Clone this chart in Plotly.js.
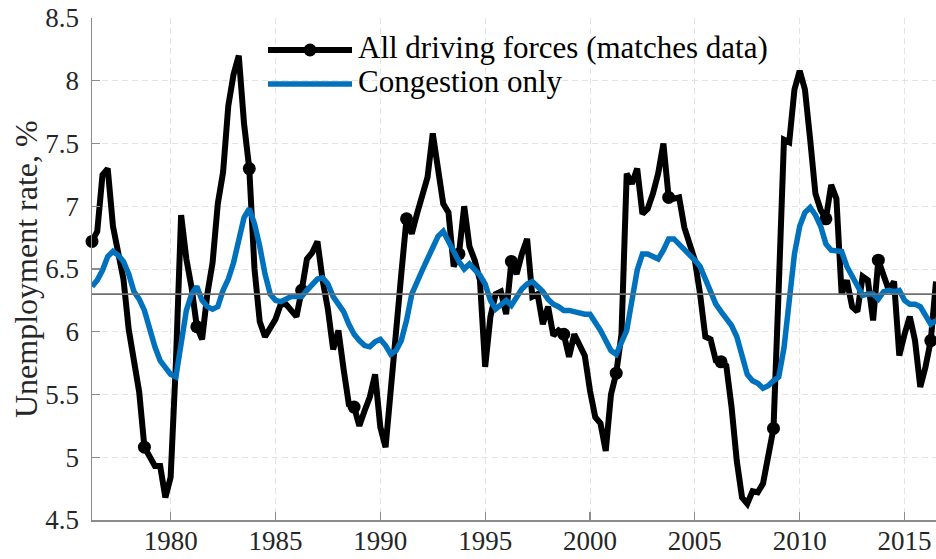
<!DOCTYPE html>
<html>
<head>
<meta charset="utf-8">
<script src="https://cdn.plot.ly/plotly-3.0.1.min.js"></script>
<style>
  html, body { margin: 0; padding: 0; background: #fff; }
  #chart { width: 936px; height: 559px; }
</style>
</head>
<body>
<div id="chart"></div>
<script>
// Quarterly series, first quarter shown is 1976.25, one value per quarter
const startYear = 1976.25;

// All driving forces (matches data), one row per year
const allForces = [
  6.72, 6.80, 7.25,                 // 1976 Q2-Q4
  7.30, 6.84, 6.62, 6.42,           // 1977
  6.02, 5.80, 5.52, 5.08,           // 1978
  5.00, 4.93, 4.93, 4.68,           // 1979
  4.84, 5.75, 6.93, 6.58,           // 1980
  6.35, 6.04, 5.94, 6.30,           // 1981
  6.55, 7.02, 7.27, 7.80,           // 1982
  8.05, 8.20, 7.66, 7.30,           // 1983
  6.50, 6.08, 5.96, 6.04,           // 1984
  6.10, 6.22, 6.22, 6.17,           // 1985
  6.12, 6.33, 6.58, 6.63,           // 1986
  6.72, 6.41, 6.18, 5.86,           // 1987
  6.01, 5.70, 5.42, 5.40,           // 1988
  5.25, 5.37, 5.48, 5.66,           // 1989
  5.24, 5.08, 5.50, 5.93,           // 1990
  6.46, 6.90, 6.78, 6.94,           // 1991
  7.10, 7.23, 7.58, 7.26,           // 1992
  7.02, 6.95, 6.52, 6.62,           // 1993
  7.00, 6.68, 6.57, 6.41,           // 1994
  5.72, 6.12, 6.30, 6.32,           // 1995
  6.14, 6.56, 6.46, 6.62,           // 1996
  6.74, 6.28, 6.30, 6.06,           // 1997
  6.20, 5.97, 6.01, 5.98,           // 1998
  5.80, 5.98, 5.88, 5.81,           // 1999
  5.53, 5.32, 5.27, 5.05,           // 2000
  5.50, 5.67, 5.98, 7.26,           // 2001
  7.18, 7.30, 6.94, 6.98,           // 2002
  7.10, 7.26, 7.50, 7.07,           // 2003
  7.06, 7.07, 6.83, 6.68,           // 2004
  6.57, 6.30, 5.96, 5.94,           // 2005
  5.77, 5.76, 5.73, 5.40,           // 2006
  4.97, 4.68, 4.63, 4.73,           // 2007
  4.72, 4.79, 5.03, 5.23,           // 2008
  6.35, 7.53, 7.51, 7.93,           // 2009
  8.08, 7.93, 7.53, 7.10,           // 2010
  6.97, 6.90, 7.17, 7.06,           // 2011
  6.30, 6.41, 6.20, 6.16,           // 2012
  6.44, 6.41, 6.09, 6.57,           // 2013
  6.45, 6.33, 6.40, 5.81,           // 2014
  5.98, 6.12, 5.93, 5.56,           // 2015
  5.72, 5.93, 6.40                  // 2016 Q1-Q3
];

// Congestion only
const congestionOnly = [
  6.36, 6.41, 6.49,
  6.60, 6.64, 6.61, 6.56,
  6.46, 6.32, 6.26, 6.17,
  6.01, 5.88, 5.77, 5.72,
  5.66, 5.64, 5.88, 6.17,
  6.30, 6.36, 6.25, 6.20,
  6.18, 6.20, 6.33, 6.42,
  6.55, 6.73, 6.91, 6.98,
  6.86, 6.68, 6.46, 6.30,
  6.25, 6.24, 6.26, 6.28,
  6.28, 6.28, 6.33, 6.38,
  6.42, 6.43, 6.38, 6.28,
  6.22, 6.16, 6.06, 5.98,
  5.93, 5.89, 5.88, 5.92,
  5.94, 5.89, 5.82, 5.85,
  5.93, 6.09, 6.30, 6.41,
  6.49, 6.58, 6.68, 6.76,
  6.80, 6.73, 6.64, 6.56,
  6.50, 6.54, 6.50, 6.45,
  6.38, 6.25, 6.18, 6.22,
  6.25, 6.21, 6.28, 6.34,
  6.38, 6.40, 6.36, 6.32,
  6.26, 6.22, 6.20, 6.17,
  6.17, 6.16, 6.14, 6.14,
  6.14, 6.08, 6.01, 5.93,
  5.85, 5.82, 5.92, 6.01,
  6.25, 6.49, 6.62, 6.62,
  6.60, 6.58, 6.65, 6.74,
  6.74, 6.70, 6.66, 6.62,
  6.57, 6.52, 6.41, 6.30,
  6.22, 6.16, 6.10, 6.05,
  5.96, 5.80, 5.66, 5.61,
  5.59, 5.55, 5.57, 5.61,
  5.64, 5.87, 6.22, 6.62,
  6.84, 6.95, 6.99, 6.93,
  6.84, 6.70, 6.65, 6.64,
  6.64, 6.52, 6.44, 6.36,
  6.29, 6.30, 6.30, 6.26,
  6.32, 6.33, 6.32, 6.33,
  6.25, 6.22, 6.22, 6.20,
  6.12, 6.06, 6.09
];

const seriesNames = ['All driving forces (matches data)', 'Congestion only'];
const referenceLevel = 6.3;
const xTicks = [1980, 1985, 1990, 1995, 2000, 2005, 2010, 2015];
const yTicks = [4.5, 5, 5.5, 6, 6.5, 7, 7.5, 8, 8.5];

const quarters = allForces.map((_, i) => startYear + i * 0.25);

const font = '"Liberation Serif", "DejaVu Serif", serif';
const black = '#000000';
const blue = '#0072BD';
const axisGray = '#8c8c8c';

// marker on every 10th quarter, like MarkerIndices in the original
const markerSizes = quarters.map((_, i) => (i % 10 === 0 ? 13 : 0));

const traces = [
  {
    x: quarters,
    y: allForces,
    name: seriesNames[0],
    type: 'scatter',
    mode: 'lines+markers',
    cliponaxis: false,
    line: { color: black, width: 6 },
    marker: { color: black, size: markerSizes, opacity: 1, line: { width: 0 } },
    showlegend: false
  },
  {
    x: quarters,
    y: congestionOnly,
    name: seriesNames[1],
    type: 'scatter',
    mode: 'lines',
    line: { color: blue, width: 5.5 },
    showlegend: false
  }
];

// legend drawn by hand so the sample lines are as long as in the original
const legendX0 = (268 - 92) / 844;
const legendX1 = (352 - 92) / 844;
const legendTextX = (356 - 92) / 844;
const row1 = (520 - 50) / 502;
const row2 = (520 - 84) / 502;

const axisStyle = {
  ticks: 'inside',
  ticklen: 8,
  tickwidth: 1.2,
  tickcolor: axisGray,
  showline: true,
  linecolor: axisGray,
  linewidth: 1.5,
  showgrid: true,
  gridcolor: '#e3e3e3',
  gridwidth: 1,
  griddash: '6px,4px',
  zeroline: false,
  tickfont: { family: font, size: 27, color: '#262626' }
};

const layout = {
  width: 936,
  height: 559,
  margin: { l: 92, r: 0, t: 18, b: 39 },
  paper_bgcolor: '#ffffff',
  plot_bgcolor: '#ffffff',
  font: { family: font, color: '#262626', size: 27 },
  xaxis: Object.assign({}, axisStyle, {
    range: [startYear, quarters[quarters.length - 1]],
    tickvals: xTicks,
    ticklabelstandoff: -4
  }),
  yaxis: Object.assign({}, axisStyle, {
    range: [4.5, 8.5],
    tickvals: yTicks,
    ticktext: yTicks.map(v => String(v)),
    ticklabelstandoff: 6
  }),
  shapes: [
    {
      type: 'line', xref: 'paper', yref: 'y', x0: 0, x1: 1,
      y0: referenceLevel, y1: referenceLevel,
      line: { color: '#707070', width: 1.8 }, layer: 'above'
    },
    {
      type: 'line', xref: 'paper', yref: 'paper', x0: legendX0, x1: legendX1,
      y0: row1, y1: row1, line: { color: black, width: 6 }
    },
    {
      type: 'circle', xref: 'paper', yref: 'paper',
      xsizemode: 'pixel', ysizemode: 'pixel',
      xanchor: (legendX0 + legendX1) / 2, yanchor: row1,
      x0: -6.5, x1: 6.5, y0: -6.5, y1: 6.5,
      fillcolor: black, line: { color: black, width: 0 }
    },
    {
      type: 'line', xref: 'paper', yref: 'paper', x0: legendX0, x1: legendX1,
      y0: row2, y1: row2, line: { color: blue, width: 5.5 }
    }
  ],
  annotations: [
    {
      xref: 'paper', yref: 'paper', x: legendTextX, y: row1 + 0.004,
      xanchor: 'left', yanchor: 'middle', showarrow: false,
      text: seriesNames[0], font: { family: font, size: 31, color: '#000' }
    },
    {
      xref: 'paper', yref: 'paper', x: legendTextX, y: row2 + 0.004,
      xanchor: 'left', yanchor: 'middle', showarrow: false,
      text: seriesNames[1], font: { family: font, size: 31, color: '#000' }
    },
    {
      xref: 'paper', yref: 'paper', x: (26 - 92) / 844, y: 0.5,
      xanchor: 'center', yanchor: 'middle', showarrow: false, textangle: -90,
      text: 'Unemployment rate, %', font: { family: font, size: 32, color: '#262626' }
    }
  ]
};

Plotly.newPlot('chart', traces, layout, { displayModeBar: false, staticPlot: true });
</script>
</body>
</html>
